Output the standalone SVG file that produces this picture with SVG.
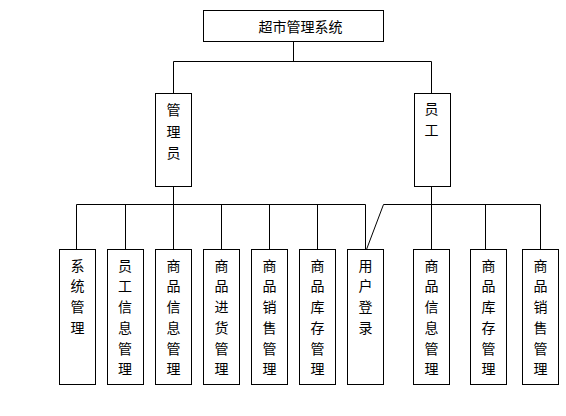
<svg xmlns="http://www.w3.org/2000/svg" width="566" height="416" viewBox="0 0 566 416">
<style>
rect{fill:#fff;stroke:#000;stroke-width:1}
#connectors line,#connectors polyline{stroke:#000;stroke-width:1;fill:none}
text{font-family:"Noto Sans CJK SC","Liberation Sans",sans-serif;font-size:14px;fill:#000;text-anchor:middle}
</style>
<rect x="0" y="0" width="566" height="416" style="fill:#fff;stroke:none"/>
<g id="connectors">
<line x1="293.5" y1="41.5" x2="293.5" y2="61.5"/>
<polyline points="173.5,93.5 173.5,61.5 431.5,61.5 431.5,93.5"/>
<line x1="173.5" y1="186.5" x2="173.5" y2="204.5"/>
<line x1="431.5" y1="186.5" x2="431.5" y2="204.5"/>
<line x1="76.5" y1="204.5" x2="365.5" y2="204.5"/>
<line x1="383.5" y1="204.5" x2="540.5" y2="204.5"/>
<line x1="76.5" y1="204.5" x2="76.5" y2="249.5"/>
<line x1="125.5" y1="204.5" x2="125.5" y2="249.5"/>
<line x1="173.5" y1="204.5" x2="173.5" y2="249.5"/>
<line x1="221.5" y1="204.5" x2="221.5" y2="249.5"/>
<line x1="269.5" y1="204.5" x2="269.5" y2="249.5"/>
<line x1="317.5" y1="204.5" x2="317.5" y2="249.5"/>
<line x1="365.5" y1="204.5" x2="365.5" y2="249.5"/>
<line x1="383.5" y1="204.5" x2="366.5" y2="249.5"/>
<line x1="431.5" y1="204.5" x2="431.5" y2="249.5"/>
<line x1="485.5" y1="204.5" x2="485.5" y2="249.5"/>
<line x1="540.5" y1="204.5" x2="540.5" y2="249.5"/>
</g>
<g id="root">
<rect x="203.5" y="10.5" width="180" height="31"/>
<text x="300.5" y="31.5">超市管理系统</text>
</g>
<g id="admin">
<rect x="155.5" y="93.5" width="36" height="93"/>
<text x="173.5" y="115">管</text><text x="173.5" y="136.5">理</text><text x="173.5" y="158">员</text>
</g>
<g id="staff">
<rect x="414.5" y="93.5" width="36" height="93"/>
<text x="431.5" y="113.5">员</text><text x="431.5" y="135">工</text>
</g>
<g id="n1">
<rect x="59.5" y="249.5" width="36" height="135"/>
<text x="77.5" y="270.5">系</text><text x="77.5" y="291.2">统</text><text x="77.5" y="312">管</text><text x="77.5" y="332.7">理</text>
</g>
<g id="n2">
<rect x="107.5" y="249.5" width="36" height="135"/>
<text x="125" y="270.5">员</text><text x="125" y="291.2">工</text><text x="125" y="312">信</text><text x="125" y="332.7">息</text><text x="125" y="353.5">管</text><text x="125" y="374.2">理</text>
</g>
<g id="n3">
<rect x="155.5" y="249.5" width="36" height="135"/>
<text x="173.5" y="270.5">商</text><text x="173.5" y="291.2">品</text><text x="173.5" y="312">信</text><text x="173.5" y="332.7">息</text><text x="173.5" y="353.5">管</text><text x="173.5" y="374.2">理</text>
</g>
<g id="n4">
<rect x="203.5" y="249.5" width="36" height="135"/>
<text x="221.5" y="270.5">商</text><text x="221.5" y="291.2">品</text><text x="221.5" y="312">进</text><text x="221.5" y="332.7">货</text><text x="221.5" y="353.5">管</text><text x="221.5" y="374.2">理</text>
</g>
<g id="n5">
<rect x="251.5" y="249.5" width="36" height="135"/>
<text x="269.5" y="270.5">商</text><text x="269.5" y="291.2">品</text><text x="269.5" y="312">销</text><text x="269.5" y="332.7">售</text><text x="269.5" y="353.5">管</text><text x="269.5" y="374.2">理</text>
</g>
<g id="n6">
<rect x="299.5" y="249.5" width="36" height="135"/>
<text x="317.5" y="270.5">商</text><text x="317.5" y="291.2">品</text><text x="317.5" y="312">库</text><text x="317.5" y="332.7">存</text><text x="317.5" y="353.5">管</text><text x="317.5" y="374.2">理</text>
</g>
<g id="n7">
<rect x="347.5" y="249.5" width="36" height="135"/>
<text x="365.5" y="270.5">用</text><text x="365.5" y="291.2">户</text><text x="365.5" y="312">登</text><text x="365.5" y="332.7">录</text>
</g>
<g id="n8">
<rect x="413.5" y="249.5" width="36" height="135"/>
<text x="431.5" y="270.5">商</text><text x="431.5" y="291.2">品</text><text x="431.5" y="312">信</text><text x="431.5" y="332.7">息</text><text x="431.5" y="353.5">管</text><text x="431.5" y="374.2">理</text>
</g>
<g id="n9">
<rect x="470.5" y="249.5" width="36" height="135"/>
<text x="488.5" y="270.5">商</text><text x="488.5" y="291.2">品</text><text x="488.5" y="312">库</text><text x="488.5" y="332.7">存</text><text x="488.5" y="353.5">管</text><text x="488.5" y="374.2">理</text>
</g>
<g id="n10">
<rect x="522.5" y="249.5" width="36" height="135"/>
<text x="540.5" y="270.5">商</text><text x="540.5" y="291.2">品</text><text x="540.5" y="312">销</text><text x="540.5" y="332.7">售</text><text x="540.5" y="353.5">管</text><text x="540.5" y="374.2">理</text>
</g>
</svg>
